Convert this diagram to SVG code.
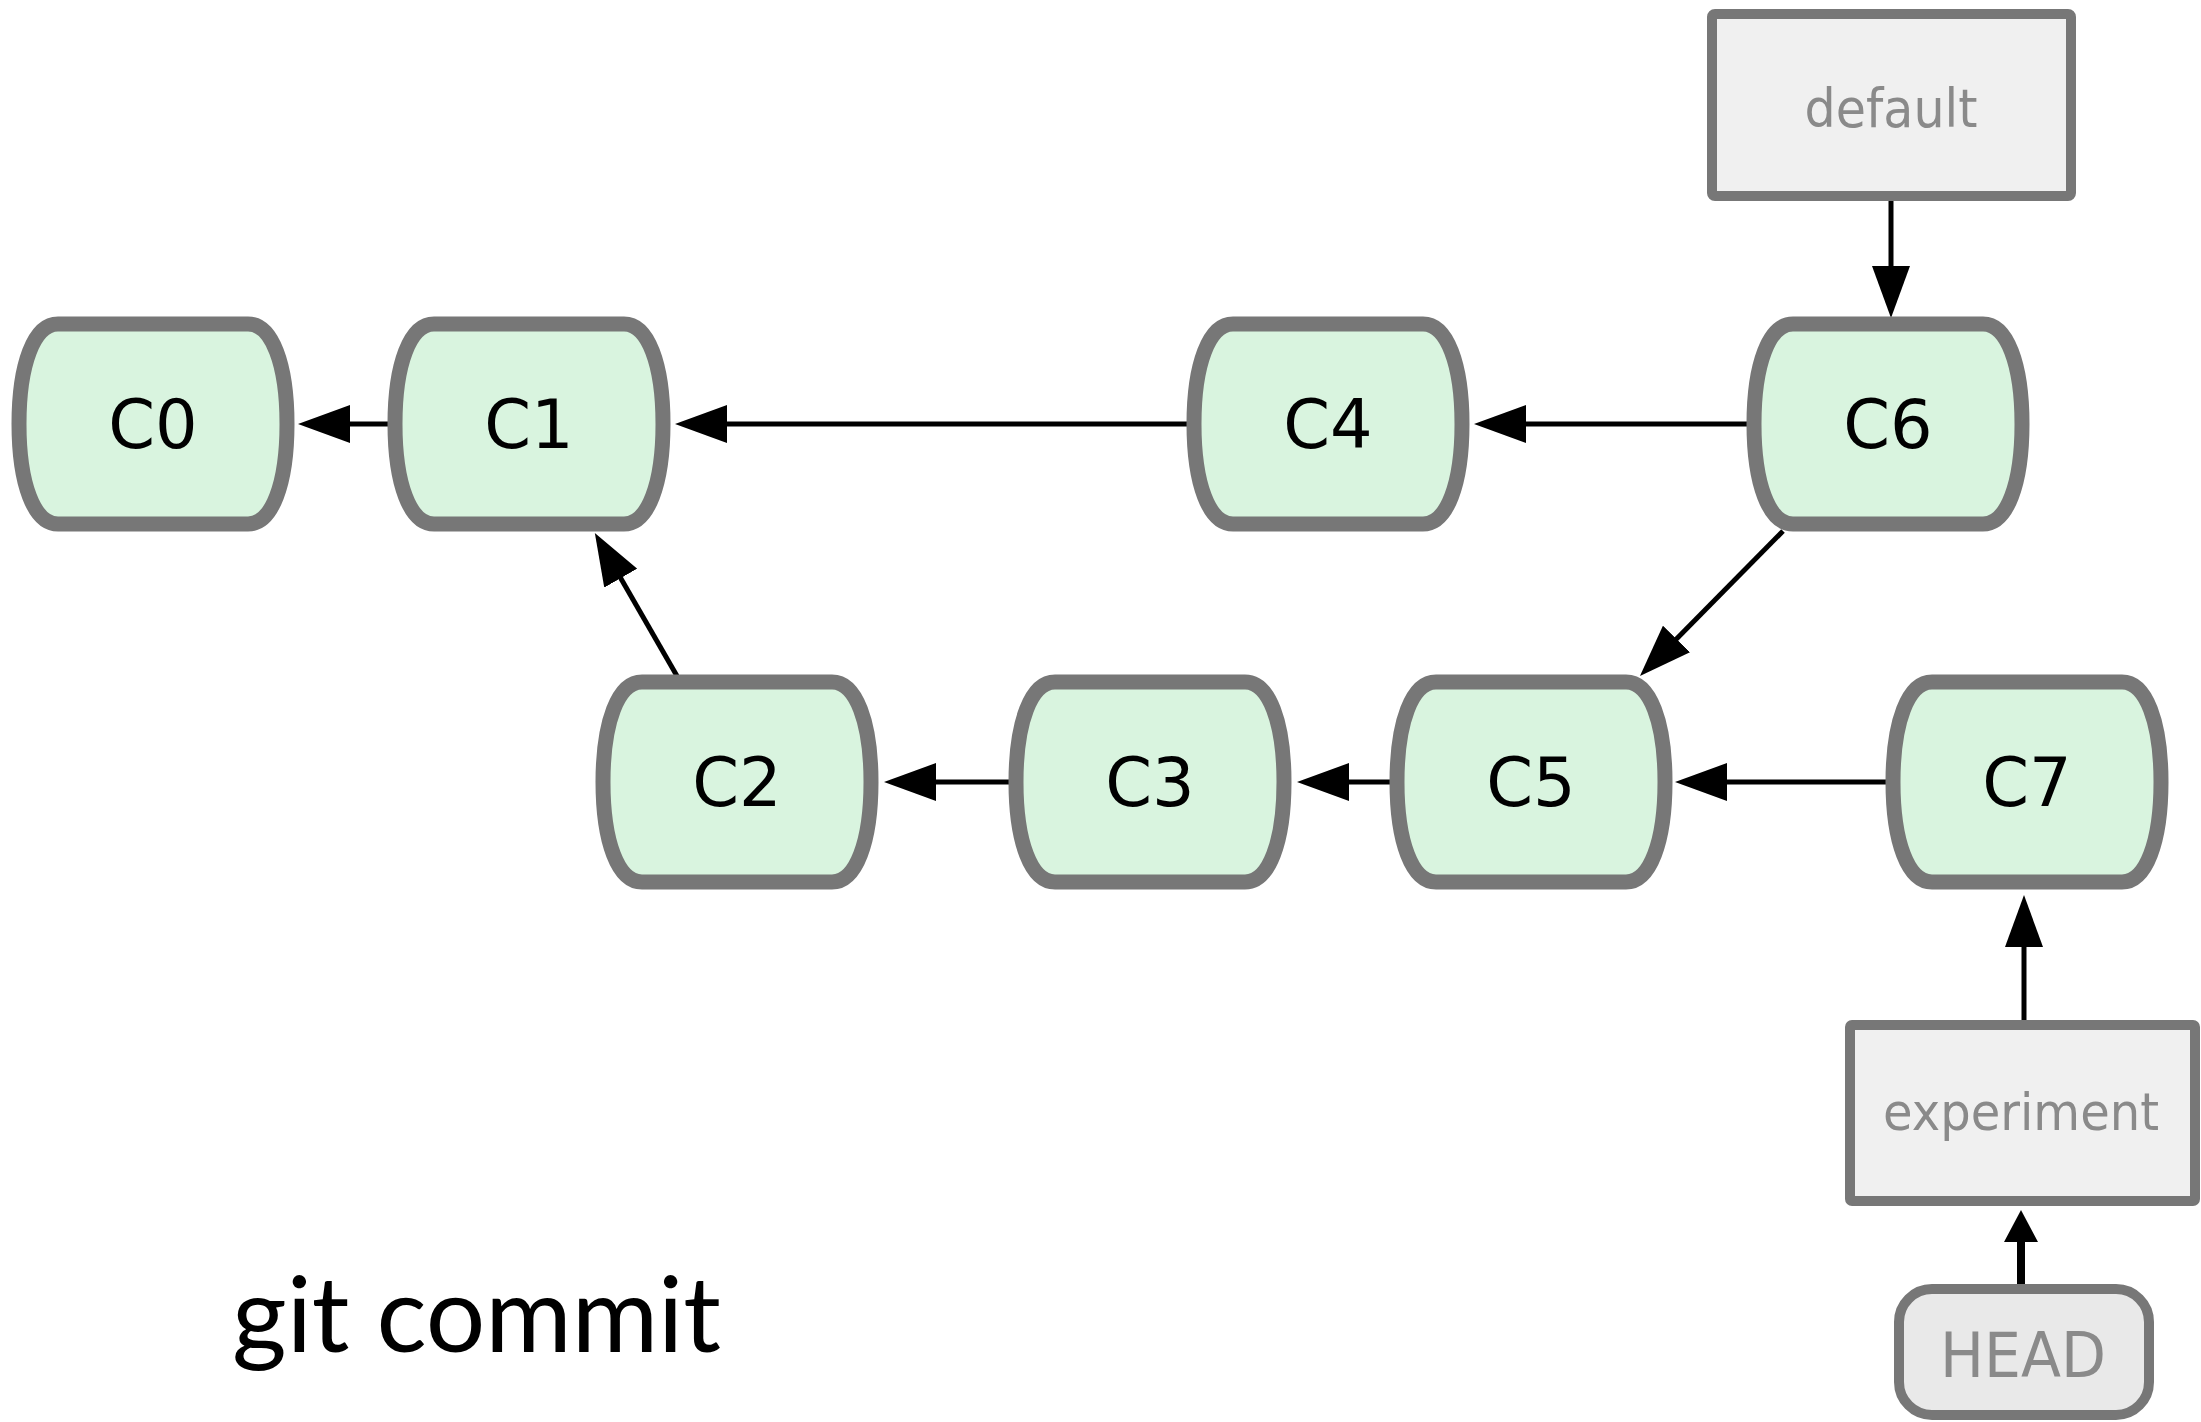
<svg xmlns="http://www.w3.org/2000/svg" xmlns:xlink="http://www.w3.org/1999/xlink" width="2201" height="1422" viewBox="0 0 2201 1422">
<style>
.commit{fill:#d9f4df;stroke:#777777;stroke-width:15}
.clabel{font-family:"DejaVu Sans",sans-serif;font-size:67px;fill:#000;text-anchor:middle}
.ref{fill:#f0f0f0;stroke:#777777;stroke-width:10}
.head{fill:#e9e9e9;stroke:#777777;stroke-width:10}
.rlabel{font-family:"DejaVu Sans",sans-serif;fill:#8a8a8a;text-anchor:middle}
.edge{stroke:#000;stroke-width:5;fill:none}
.edge2{stroke:#000;stroke-width:8;fill:none}
.title{font-family:Lato,"Open Sans",sans-serif;font-size:104px;fill:#000}
</style>
<defs>
<path id="barrel" d="M -95,-100 H 95 C 119,-100 134,-60 134,0 C 134,60 119,100 95,100 H -95 C -119,100 -134,60 -134,0 C -134,-60 -119,-100 -95,-100 Z"/>
<marker id="ah" markerUnits="userSpaceOnUse" viewBox="0 0 52 38" markerWidth="52" markerHeight="38" refX="32" refY="19" orient="auto">
<path d="M0,0 L52,19 L0,38 Z" fill="#000"/>
</marker>
<marker id="ahs" markerUnits="userSpaceOnUse" viewBox="0 0 32 34" markerWidth="32" markerHeight="34" refX="20" refY="17" orient="auto">
<path d="M0,0 L32,17 L0,34 Z" fill="#000"/>
</marker>
</defs>
<rect width="2201" height="1422" fill="#ffffff"/>
<g id="connectors">
<line class="edge" x1="390" y1="424" x2="318" y2="424" marker-end="url(#ah)"/>
<line class="edge" x1="1189" y1="424" x2="695" y2="424" marker-end="url(#ah)"/>
<line class="edge" x1="1748" y1="424" x2="1494" y2="424" marker-end="url(#ah)"/>
<line class="edge" x1="1891" y1="199" x2="1891" y2="298" marker-end="url(#ah)"/>
<line class="edge" x1="1783" y1="531" x2="1654" y2="661.8" marker-end="url(#ah)"/>
<line class="edge" x1="677" y1="676" x2="604.8" y2="550.4" marker-end="url(#ah)"/>
<line class="edge" x1="1011" y1="782" x2="904" y2="782" marker-end="url(#ah)"/>
<line class="edge" x1="1392" y1="782" x2="1317" y2="782" marker-end="url(#ah)"/>
<line class="edge" x1="1888" y1="782" x2="1695" y2="782" marker-end="url(#ah)"/>
<line class="edge" x1="2024" y1="1020" x2="2024" y2="915" marker-end="url(#ah)"/>
<line class="edge2" x1="2021" y1="1284" x2="2021" y2="1222" marker-end="url(#ahs)"/>
</g>
<g id="C0"><use xlink:href="#barrel" class="commit" transform="translate(153,424)"/><text class="clabel" x="153" y="448">C0</text></g>
<g id="C1"><use xlink:href="#barrel" class="commit" transform="translate(529,424)"/><text class="clabel" x="529" y="448">C1</text></g>
<g id="C4"><use xlink:href="#barrel" class="commit" transform="translate(1328,424)"/><text class="clabel" x="1328" y="448">C4</text></g>
<g id="C6"><use xlink:href="#barrel" class="commit" transform="translate(1888,424)"/><text class="clabel" x="1888" y="448">C6</text></g>
<g id="C2"><use xlink:href="#barrel" class="commit" transform="translate(737,782)"/><text class="clabel" x="737" y="806">C2</text></g>
<g id="C3"><use xlink:href="#barrel" class="commit" transform="translate(1150,782)"/><text class="clabel" x="1150" y="806">C3</text></g>
<g id="C5"><use xlink:href="#barrel" class="commit" transform="translate(1531,782)"/><text class="clabel" x="1531" y="806">C5</text></g>
<g id="C7"><use xlink:href="#barrel" class="commit" transform="translate(2027,782)"/><text class="clabel" x="2027" y="806">C7</text></g>
<g id="default"><rect class="ref" x="1712" y="14" width="359" height="182" rx="3"/><text class="rlabel" x="1891" y="127" font-size="54" textLength="173" lengthAdjust="spacingAndGlyphs">default</text></g>
<g id="experiment"><rect class="ref" x="1850" y="1025" width="345" height="176" rx="2"/><text class="rlabel" x="2021" y="1130" font-size="51" textLength="276" lengthAdjust="spacingAndGlyphs">experiment</text></g>
<g id="HEAD"><rect class="head" x="1899" y="1289" width="250" height="126" rx="33"/><text class="rlabel" x="2023" y="1377" font-size="62" textLength="166" lengthAdjust="spacingAndGlyphs">HEAD</text></g>
<text class="title" x="232" y="1352" textLength="489" lengthAdjust="spacingAndGlyphs">git commit</text>
</svg>
